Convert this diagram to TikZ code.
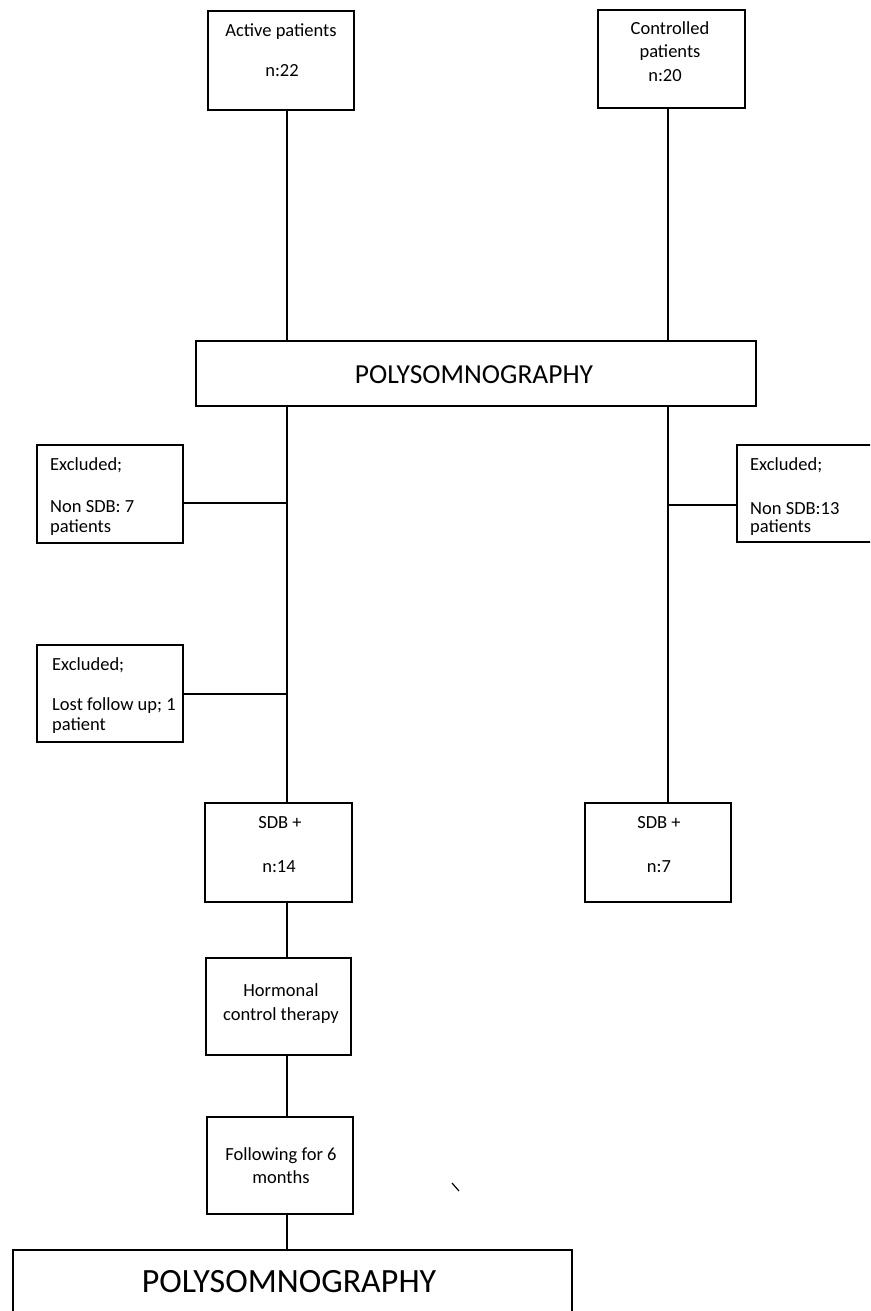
\documentclass[tikz,border=0pt]{standalone}
\usepackage{fontspec}
\setmainfont{Carlito}
\begin{document}
\begin{tikzpicture}[x=1pt,y=-1pt,
  box/.style={draw, line width=1.8pt, inner sep=0pt, outer sep=0pt},
  conn/.style={line width=1.8pt},
  txt/.style={anchor=base, inner sep=0pt, font=\fontsize{18.5}{22}\selectfont},
  ltxt/.style={anchor=base west, inner sep=0pt, font=\fontsize{18.5}{22}\selectfont},
  bigtxt/.style={anchor=base, inner sep=0pt, font=\fontsize{27.5}{32}\selectfont},
  hugetxt/.style={anchor=base, inner sep=0pt, font=\fontsize{34}{40}\selectfont}]
\useasboundingbox (0,0) rectangle (870,1311);
\clip (0,0) rectangle (870,1311);
\fill[white] (0,0) rectangle (870,1311);

% column coordinates
\coordinate (L) at (287,0);
\coordinate (R) at (668,0);

% boxes
\node[box, minimum width=146pt, minimum height=99pt] (active) at (281,60.5) {};
\node[box, minimum width=147pt, minimum height=98pt] (ctrl) at (671.5,59) {};
\node[box, minimum width=560pt, minimum height=65pt] (psg1) at (476,373.5) {};
\node[box, minimum width=146pt, minimum height=98pt] (exL1) at (110,494) {};
\node[box, minimum width=153pt, minimum height=97pt] (exR) at (813.5,493.5) {};
\node[box, minimum width=146pt, minimum height=97pt] (exL2) at (110,693.5) {};
\node[box, minimum width=147pt, minimum height=99pt] (sdbL) at (278.5,852.5) {};
\node[box, minimum width=146pt, minimum height=99pt] (sdbR) at (658,852.5) {};
\node[box, minimum width=145pt, minimum height=97pt] (horm) at (278.5,1006.5) {};
\node[box, minimum width=146pt, minimum height=97pt] (follow) at (280,1165.5) {};
\node[box, minimum width=559pt, minimum height=80pt] (psg2) at (292.5,1290) {};

% junction coordinates
\coordinate (jL1) at (287,503);
\coordinate (jR) at (668,505);
\coordinate (jL2) at (287,694);

% connectors
\draw[conn] (active.south -| L) -- (psg1.north -| L);
\draw[conn] (ctrl.south -| R) -- (psg1.north -| R);
\draw[conn] (psg1.south -| L) -- (sdbL.north -| L);
\draw[conn] (psg1.south -| R) -- (sdbR.north -| R);
\draw[conn] (exL1.east |- jL1) -- (jL1);
\draw[conn] (exR.west |- jR) -- (jR);
\draw[conn] (exL2.east |- jL2) -- (jL2);
\draw[conn] (sdbL.south -| L) -- (horm.north -| L);
\draw[conn] (horm.south -| L) -- (follow.north -| L);
\draw[conn] (follow.south -| L) -- (psg2.north -| L);

% texts
\node[txt] (t1) at (281,37) {Active patients};
\node[txt] (t2) at (282,77) {n:22};
\node[txt] (t3) at (670,35) {Controlled};
\node[txt] (t4) at (670,58) {patients};
\node[txt] (t5) at (665,82) {n:20};
\node[bigtxt] (t6) at (474,383) {POLYSOMNOGRAPHY};
\node[ltxt] (t7) at (50,470) {Excluded;};
\node[ltxt] (t8) at (50,512) {Non SDB: 7};
\node[ltxt] (t9) at (50,532) {patients};
\node[ltxt] (t10) at (750,470) {Excluded;};
\node[ltxt] (t11) at (750,514) {Non SDB:13};
\node[ltxt] (t12) at (750,532) {patients};
\node[ltxt] (t13) at (52,670) {Excluded;};
\node[ltxt] (t14) at (52,710) {Lost follow up; 1};
\node[ltxt] (t15) at (52,730) {patient};
\node[txt] (t16) at (280,828) {SDB +};
\node[txt] (t17) at (279,872) {n:14};
\node[txt] (t18) at (659,828) {SDB +};
\node[txt] (t19) at (659,872) {n:7};
\node[txt] (t20) at (281,996) {Hormonal};
\node[txt] (t21) at (281,1020) {control therapy};
\node[txt] (t22) at (281,1160) {Following for 6};
\node[txt] (t23) at (281,1183) {months};
\node[hugetxt] (t24) at (289,1292) {POLYSOMNOGRAPHY};

% stray mark
\draw[line width=1.2pt] (452,1183) -- (459,1191);
\end{tikzpicture}
\end{document}
